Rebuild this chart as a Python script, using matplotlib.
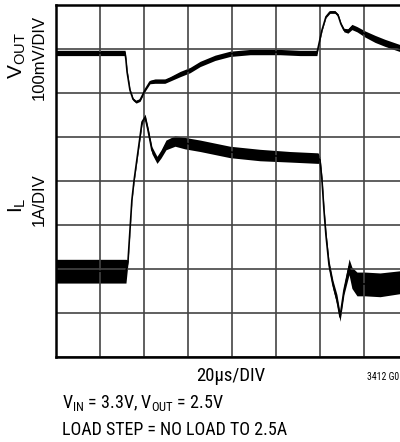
import matplotlib
matplotlib.use("Agg")
import matplotlib.pyplot as plt
import numpy as np

plt.rcParams['font.family'] = ['Roboto Condensed', 'DejaVu Sans']
plt.rcParams['mathtext.default'] = 'regular'

# time in us (20us/DIV, 8 divisions), traces in screen divisions from the bottom
vout_t = [0, 31.4, 31.8, 32.3, 33.6, 35.0, 36.4, 38.2, 40.5, 42.7, 45.0, 49.5,
          51.8, 56.4, 60.9, 65.5, 72.3, 79.1, 88.2, 101.8, 110.9, 118.6, 119.1,
          120.9, 122.7, 124.5, 126.8, 128.2, 129.5, 130.9, 132.7, 134.5, 136.8,
          140.5, 145.0, 149.5, 156.4, 160]
vout_div = [6.91, 6.91, 6.75, 6.48, 6.07, 5.86, 5.80, 5.84, 6.07, 6.25, 6.27, 6.27,
            6.32, 6.43, 6.52, 6.66, 6.80, 6.89, 6.93, 6.93, 6.91, 6.91, 7.02,
            7.43, 7.73, 7.84, 7.84, 7.77, 7.57, 7.43, 7.41, 7.50, 7.45,
            7.34, 7.23, 7.14, 7.02, 6.98]
vout_noise = [0.06, 0.06, 0.04, 0.05, 0.03, 0.03, 0.03, 0.03, 0.03, 0.04, 0.05, 0.05,
              0.05, 0.06, 0.06, 0.06, 0.06, 0.06, 0.06, 0.06, 0.06, 0.06, 0.02,
              0.02, 0.02, 0.03, 0.03, 0.03, 0.03, 0.04, 0.05, 0.06, 0.06,
              0.07, 0.08, 0.08, 0.08, 0.08]

il_t = [0, 31.8, 32.7, 34.5, 35.5, 39.1, 40.5, 41.8, 43.6, 45.9, 47.7, 50.0,
        54.1, 58.6, 65.5, 79.1, 92.7, 106.4, 119.1, 120.0, 120.9, 121.8, 122.7,
        124.1, 125.9, 127.7, 129.1, 130.9, 133.2, 134.5, 136.8, 140.5, 147.3,
        156.4, 160]
il_div = [1.95, 1.95, 2.16, 3.57, 4.02, 5.34, 5.45, 5.16, 4.70, 4.48, 4.61, 4.82,
          4.91, 4.86, 4.80, 4.66, 4.59, 4.55, 4.52, 4.48, 4.02, 3.34, 2.77,
          2.09, 1.64, 1.30, 0.91, 1.52, 2.05, 1.80, 1.66, 1.66, 1.64,
          1.70, 1.72]
il_noise = [0.27, 0.27, 0.04, 0.03, 0.03, 0.05, 0.07, 0.07, 0.08, 0.08, 0.09, 0.11,
            0.12, 0.13, 0.13, 0.13, 0.13, 0.12, 0.12, 0.07, 0.07, 0.07, 0.09,
            0.10, 0.10, 0.12, 0.10, 0.10, 0.18, 0.24, 0.27, 0.27, 0.27,
            0.26, 0.26]

fig = plt.figure(figsize=(4, 4.42), dpi=100)
ax = fig.add_axes([56 / 400, 85 / 442, 352 / 400, 352 / 442])

for t, y, n in [(vout_t, vout_div, vout_noise), (il_t, il_div, il_noise)]:
    t = np.array(t)
    y = np.array(y)
    n = np.array(n)
    ax.fill_between(t, y - n, y + n, color='black', linewidth=0)
    ax.plot(t, y, color='black', linewidth=1.2)

ax.set_xlim(0, 160)
ax.set_ylim(0, 8)
ax.set_xticks(np.arange(0, 161, 20))
ax.set_yticks(np.arange(0, 9, 1))
ax.grid(True, color='#444444', linewidth=1.2)
ax.tick_params(length=0, labelbottom=False, labelleft=False)
for side in ['left', 'top', 'bottom', 'right']:
    ax.spines[side].set_linewidth(1.8)

wide = ['Liberation Sans', 'DejaVu Sans']
fig.text(17 / 400, 1 - 56 / 442, r'V$_{OUT}$', rotation=90, ha='center', va='center',
         fontsize=15, family=wide)
fig.text(39.5 / 400, 1 - 57 / 442, '100mV/DIV', rotation=90, ha='center', va='center',
         fontsize=12, family=wide)
fig.text(17 / 400, 1 - 205 / 442, r'I$_{L}$', rotation=90, ha='center', va='center',
         fontsize=15, family=wide)
fig.text(39.5 / 400, 1 - 200 / 442, '1A/DIV', rotation=90, ha='center', va='center',
         fontsize=12, family=wide)
fig.text(231 / 400, 1 - 376 / 442, '20µs/DIV', ha='center', va='center', fontsize=13.5)
fig.text(399 / 400, 1 - 377 / 442, '3412 G0', ha='right', va='center', fontsize=7)
fig.text(62 / 400, 1 - 403 / 442, r'V$_{IN}$ = 3.3V, V$_{OUT}$ = 2.5V', ha='left', va='center', fontsize=13)
fig.text(62 / 400, 1 - 430 / 442, 'LOAD STEP = NO LOAD TO 2.5A', ha='left', va='center', fontsize=13)

fig.savefig('out.png', dpi=100)
